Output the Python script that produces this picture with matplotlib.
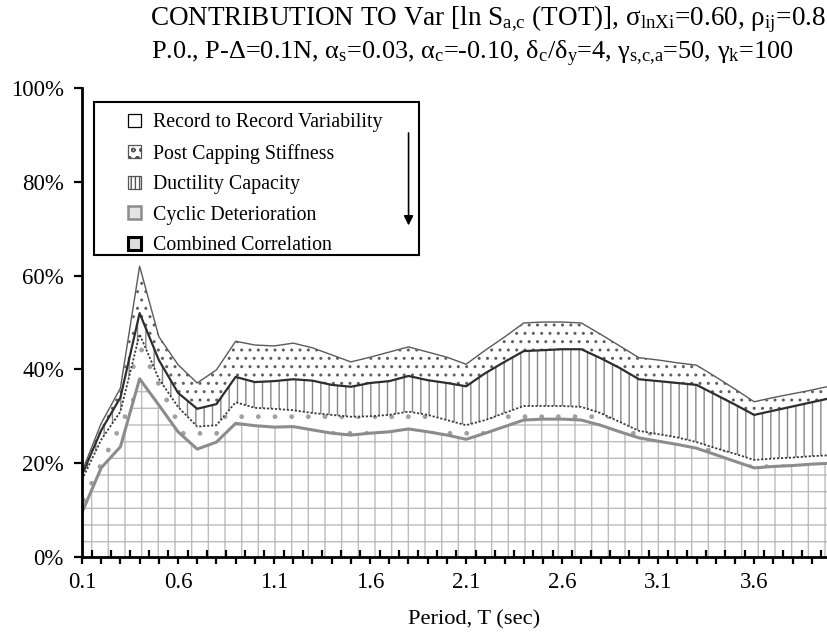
import matplotlib

matplotlib.use("Agg")
import matplotlib.pyplot as plt
import numpy as np
from matplotlib.patches import Patch, Rectangle
from matplotlib.ticker import FuncFormatter

# Period axis (sec), one category every 0.1 s
periods = [
	0.1, 0.2, 0.3, 0.4, 0.5, 0.6, 0.7, 0.8, 0.9, 1.0,
	1.1, 1.2, 1.3, 1.4, 1.5, 1.6, 1.7, 1.8, 1.9, 2.0,
	2.1, 2.2, 2.3, 2.4, 2.5, 2.6, 2.7, 2.8, 2.9, 3.0,
	3.1, 3.2, 3.3, 3.4, 3.5, 3.6, 3.7, 3.8, 3.9, 4.0,
]

# Share of Var[ln Sa,c] (%) for each source, stacked bottom to top
combined_correlation = [
	9.5, 19.0, 23.5, 38.0, 32.4, 26.7, 23.0, 24.5, 28.5, 28.0,
	27.7, 27.8, 27.1, 26.4, 26.0, 26.4, 26.7, 27.3, 26.7, 26.0,
	25.1, 26.4, 27.8, 29.2, 29.4, 29.4, 29.2, 28.1, 26.7, 25.4,
	24.7, 24.0, 23.2, 21.8, 20.4, 19.0, 19.3, 19.5, 19.8, 20.0,
]
cyclic_deterioration = [
	7.0, 6.0, 7.5, 9.5, 5.6, 5.3, 4.8, 3.6, 4.5, 3.8,
	3.9, 3.5, 3.6, 3.9, 3.9, 3.6, 3.6, 3.7, 3.6, 3.2,
	3.0, 2.8, 2.9, 3.0, 2.8, 2.8, 2.8, 2.6, 2.1, 1.5,
	1.5, 1.5, 1.3, 1.4, 1.6, 1.7, 1.7, 1.7, 1.7, 1.7,
]
ductility_capacity = [
	1.0, 2.0, 3.0, 4.5, 4.0, 3.0, 3.8, 4.5, 5.4, 5.5,
	5.9, 6.6, 6.9, 6.4, 6.4, 7.1, 7.2, 7.6, 7.4, 7.9,
	8.3, 10.0, 10.9, 11.7, 11.9, 12.1, 12.3, 11.7, 11.5, 11.0,
	11.3, 11.6, 12.2, 11.4, 10.5, 9.6, 10.2, 10.9, 11.5, 12.2,
]
post_capping_stiffness = [
	0.7, 1.5, 2.0, 10.0, 5.0, 6.0, 5.5, 7.3, 7.6, 7.9,
	7.5, 7.7, 7.0, 6.4, 5.3, 5.5, 6.2, 6.2, 6.0, 5.5,
	4.7, 4.9, 5.3, 6.0, 6.0, 5.8, 5.6, 5.1, 4.7, 4.6,
	4.5, 4.3, 4.2, 3.8, 3.3, 2.8, 2.8, 2.7, 2.6, 2.6,
]

tick_labels = ["0.1", "0.6", "1.1", "1.6", "2.1", "2.6", "3.1", "3.6"]
legend_labels = [
	"Record to Record Variability",
	"Post Capping Stiffness",
	"Ductility Capacity",
	"Cyclic Deterioration",
	"Combined Correlation",
]

plt.rcParams["font.family"] = "Liberation Serif"
plt.rcParams["mathtext.fontset"] = "custom"
plt.rcParams["mathtext.rm"] = "Liberation Serif"
plt.rcParams["mathtext.it"] = "Liberation Serif:italic"
plt.rcParams["mathtext.default"] = "regular"
plt.rcParams["hatch.linewidth"] = 1.0


def draw_layers(ax):
	layers = [combined_correlation, cyclic_deterioration, ductility_capacity, post_capping_stiffness]
	record = 100.0 - np.sum(layers, axis=0)

	hatches = ["+", ".", "||", "..", None]
	hatch_colors = ["#bcbcbc", "#a0a0a0", "#858585", "#606060", "white"]
	polys = ax.stackplot(periods, *layers, record, colors=["white"] * 5, hatch=hatches, zorder=1)
	for poly, color in zip(polys, hatch_colors):
		poly.set_edgecolor(color)
		poly.set_linewidth(0)

	tops = np.cumsum(layers, axis=0)
	ax.plot(periods, tops[0], color="#8c8c8c", lw=2.2, zorder=3)
	ax.plot(periods, tops[1], color="#3c3c3c", lw=1.3, ls=(0, (1.2, 1.0)), zorder=3)
	ax.plot(periods, tops[2], color="#2e2e2e", lw=1.6, zorder=3)
	ax.plot(periods, tops[3], color="#5a5a5a", lw=1.0, zorder=3)


def draw_legend(ax):
	ax.add_patch(
		Rectangle((0.016, 0.644), 0.434, 0.326, transform=ax.transAxes,
				  facecolor="white", edgecolor="black", lw=1.5, zorder=4)
	)
	handles = [
		Patch(facecolor="white", edgecolor="black", lw=0.9),
		Patch(facecolor="white", edgecolor="#555555", hatch="oo", lw=0.9),
		Patch(facecolor="white", edgecolor="#555555", hatch="||||", lw=0.9),
		Patch(facecolor="#e4e4e4", edgecolor="#8c8c8c", lw=1.8),
		Patch(facecolor="#dddddd", edgecolor="black", lw=2.2),
	]
	ax.legend(
		handles, legend_labels, loc="upper left", bbox_to_anchor=(0.0614, 0.946),
		frameon=False, fontsize=14.3, handlelength=0.65, handleheight=0.65,
		handletextpad=0.6, labelspacing=0.58, borderpad=0, borderaxespad=0,
	).set_zorder(5)
	ax.annotate(
		"", xy=(0.436, 0.701), xytext=(0.436, 0.910), xycoords="axes fraction",
		arrowprops=dict(arrowstyle="-|>", color="black", lw=1.2, mutation_scale=14),
		zorder=6,
	)


def main():
	fig = plt.figure(figsize=(8.28, 6.36), dpi=100)
	ax = fig.add_axes([82 / 828, 79 / 636, 749 / 828, 469 / 636])

	draw_layers(ax)
	draw_legend(ax)

	ax.set_xlim(0.1, 4.0)
	ax.set_ylim(0, 100)
	ax.set_yticks([0, 20, 40, 60, 80, 100])
	ax.yaxis.set_major_formatter(FuncFormatter(lambda v, _: f"{v:.0f}%"))

	ax.set_xticks(periods, labels=[f"{p:.1f}" if f"{p:.1f}" in tick_labels else "" for p in periods])
	ax.set_xticks([p + 0.05 for p in periods[:-1]], minor=True)
	ax.tick_params(axis="x", which="major", direction="out", length=5, width=1.6, pad=6, labelsize=16.5)
	ax.tick_params(axis="x", which="minor", direction="in", length=5, width=1.6)
	ax.tick_params(axis="y", direction="out", length=6, width=1.6, pad=7, labelsize=16.5)

	for side in ("top", "right"):
		ax.spines[side].set_visible(False)
	for side in ("left", "bottom"):
		ax.spines[side].set_linewidth(2.0)
		ax.spines[side].set_zorder(7)

	fig.text(0.589, 1 - 19 / 636,
			 r"CONTRIBUTION TO Var [ln S$_{a{,}c}$ (TOT)], σ$_{lnXi}$=0.60, ρ$_{ij}$=0.8",
			 ha="center", va="center", fontsize=19.5)
	fig.text(0.571, 1 - 54 / 636,
			 r"P.0., P-Δ=0.1N, α$_{s}$=0.03, α$_{c}$=-0.10, δ$_{c}$/δ$_{y}$=4, γ$_{s{,}c{,}a}$=50, γ$_{k}$=100",
			 ha="center", va="center", fontsize=18.9)
	fig.text(0.5725, 1 - 620 / 636, "Period, T (sec)", ha="center", va="center", fontsize=16.2)

	fig.savefig("out.png", dpi=100)


if __name__ == "__main__":
	main()
